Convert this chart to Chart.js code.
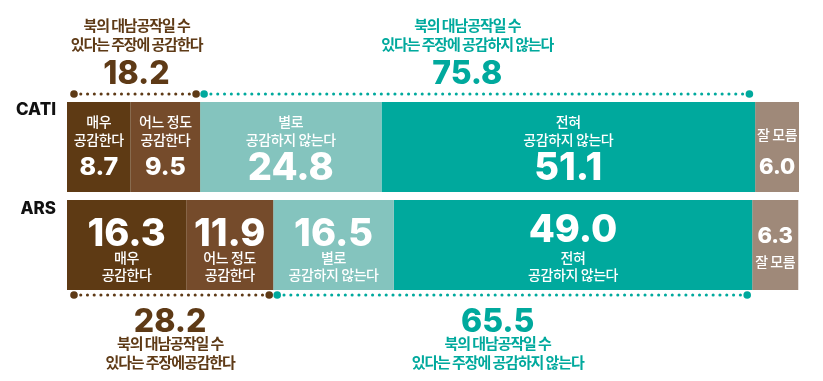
<!DOCTYPE html>
<html><head><meta charset="utf-8">
<script src="https://cdn.jsdelivr.net/npm/chart.js@4"></script>
<style>html,body{margin:0;padding:0;background:#fff}canvas{display:block}</style>
</head><body>
<canvas id="c" width="823" height="381"></canvas>
<script>
const categories = ['CATI', 'ARS'];
const segmentNames = [['매우', '공감한다'], ['어느 정도', '공감한다'], ['별로', '공감하지 않는다'], ['전혀', '공감하지 않는다'], ['잘 모름']];
const strongAgree = [8.7, 16.3];
const someAgree = [9.5, 11.9];
const notMuch = [24.8, 16.5];
const notAtAll = [51.1, 49.0];
const dontKnow = [6.0, 6.3];
const agreeTotal = [18.2, 28.2];
const disagreeTotal = [75.8, 65.5];
const agreeText = [['북의 대남공작일 수', '있다는 주장에 공감한다'], ['북의 대남공작일 수', '있다는 주장에공감한다']];
const disagreeText = [['북의 대남공작일 수', '있다는 주장에 공감하지 않는다'], ['북의 대남공작일 수', '있다는 주장에 공감하지 않는다']];

const BROWN = '#5E3A16', TEAL = '#00A99D';
const colors = ['#5E3A14', '#754B2B', '#84C4BE', '#00A99D', '#9F8979'];
const seriesValues = [strongAgree, someAgree, notMuch, notAtAll, dontKnow];
const NUMF = 'Inter, "Noto Sans", sans-serif';
const KRF = '"Noto Sans CJK KR", sans-serif';

function drawNum(ctx, txt, x, cy, size, color) {
  ctx.font = `800 ${size}px ${NUMF}`;
  ctx.fillStyle = color;
  ctx.textAlign = 'center';
  ctx.textBaseline = 'alphabetic';
  ctx.letterSpacing = '0px';
  ctx.fillText(txt, x, cy + size * 0.36);
}
function drawKr(ctx, txt, x, cy, size, color, ls, weight) {
  ctx.font = `${weight || 500} ${size}px ${KRF}`;
  ctx.fillStyle = color;
  ctx.textAlign = 'center';
  ctx.textBaseline = 'middle';
  ctx.letterSpacing = (ls || 0) + 'px';
  ctx.fillText(txt, x, cy);
  ctx.letterSpacing = '0px';
}
function dots(ctx, x0, x1, y, color) {
  ctx.fillStyle = color;
  const n = Math.max(1, Math.round((x1 - x0) / 6.8));
  const step = (x1 - x0) / n;
  for (let i = 0; i <= n; i++) {
    const r = (i === 0 || i === n) ? 3.8 : 1.55;
    ctx.beginPath();
    ctx.arc(x0 + i * step, y, r, 0, Math.PI * 2);
    ctx.fill();
  }
}

const labelPlugin = {
  id: 'labels',
  afterDatasetsDraw(chart) {
    const ctx = chart.ctx;
    const xs = chart.scales.x;
    const area = chart.chartArea;
    ctx.save();
    chart.getDatasetMeta(0).data.forEach((el, i) => {
      const t = el.y - el.height / 2;
      ctx.font = `800 17px ${NUMF}`;
      ctx.fillStyle = '#111';
      ctx.textAlign = 'right';
      ctx.textBaseline = 'middle';
      ctx.fillText(categories[i], 56, t + (i === 0 ? 8 : 9));
    });
    seriesValues.forEach((vals, d) => {
      const meta = chart.getDatasetMeta(d);
      meta.data.forEach((el, i) => {
        const t = el.y - el.height / 2;
        const cx = (el.x + el.base) / 2;
        const w = Math.abs(el.x - el.base);
        const size = w < 50 ? 22 : (w < 80 ? 25 : 38);
        const txt = vals[i].toFixed(1);
        const lines = segmentNames[d];
        const ks = 14, kl = -0.4;
        if (i === 0) {
          if (lines.length === 2) {
            drawKr(ctx, lines[0], cx, t + 20, ks, '#fff', kl);
            drawKr(ctx, lines[1], cx, t + 38, ks, '#fff', kl);
          } else {
            drawKr(ctx, lines[0], cx, t + 33, ks, '#fff', kl);
          }
          drawNum(ctx, txt, cx, t + 64, size, '#fff');
        } else {
          if (lines.length === 2) {
            drawNum(ctx, txt, cx, t + (d === 3 ? 28 : 32), size, '#fff');
            drawKr(ctx, lines[0], cx, t + 58, ks, '#fff', kl);
            drawKr(ctx, lines[1], cx, t + 75, ks, '#fff', kl);
          } else {
            drawNum(ctx, txt, cx, t + 35, size, '#fff');
            drawKr(ctx, lines[0], cx, t + 62, ks, '#fff', kl);
          }
        }
      });
    });
    categories.forEach((c, i) => {
      const x0 = xs.getPixelForValue(0);
      const xg = xs.getPixelForValue(agreeTotal[i]);
      const xe = xs.getPixelForValue(agreeTotal[i] + disagreeTotal[i]);
      const above = i === 0;
      const dy = above ? area.top - 4 : area.bottom + 1;
      dots(ctx, x0 + 7, xg - 4, dy, BROWN);
      dots(ctx, xg + 4, xe - 5, dy, TEAL);
      const ca = (x0 + xg) / 2 + (above ? 3 : 0);
      const cd = (xg + xe) / 2 - (above ? 10 : 15);
      const as = 15, al = -1.1, aw = 700;
      if (above) {
        drawKr(ctx, agreeText[i][0], ca, 25, as, BROWN, al, aw);
        drawKr(ctx, agreeText[i][1], ca, 44, as, BROWN, al, aw);
        drawNum(ctx, agreeTotal[i].toFixed(1), ca, 72, 32, BROWN);
        drawKr(ctx, disagreeText[i][0], cd, 25, as, TEAL, al, aw);
        drawKr(ctx, disagreeText[i][1], cd, 44, as, TEAL, al, aw);
        drawNum(ctx, disagreeTotal[i].toFixed(1), cd, 72, 32, TEAL);
      } else {
        drawNum(ctx, agreeTotal[i].toFixed(1), ca, 320, 32, BROWN);
        drawKr(ctx, agreeText[i][0], ca, 343, as, BROWN, al, aw);
        drawKr(ctx, agreeText[i][1], ca, 362, as, BROWN, al, aw);
        drawNum(ctx, disagreeTotal[i].toFixed(1), cd, 320, 32, TEAL);
        drawKr(ctx, disagreeText[i][0], cd, 343, as, TEAL, al, aw);
        drawKr(ctx, disagreeText[i][1], cd, 362, as, TEAL, al, aw);
      }
    });
    ctx.restore();
  }
};

new Chart(document.getElementById('c'), {
  type: 'bar',
  data: {
    labels: categories,
    datasets: seriesValues.map((v, d) => ({
      label: segmentNames[d].join(' '),
      data: v,
      backgroundColor: colors[d],
      borderWidth: 0,
      barPercentage: 0.92,
      categoryPercentage: 1
    }))
  },
  options: {
    indexAxis: 'y',
    responsive: false,
    animation: false,
    layout: { padding: { left: 67, right: 24, top: 98, bottom: 87 } },
    plugins: { legend: { display: false }, tooltip: { enabled: false } },
    scales: {
      x: { display: false, stacked: true, min: 0, max: 100.1 },
      y: { display: false, stacked: true }
    }
  },
  plugins: [labelPlugin]
});
</script>
</body></html>
